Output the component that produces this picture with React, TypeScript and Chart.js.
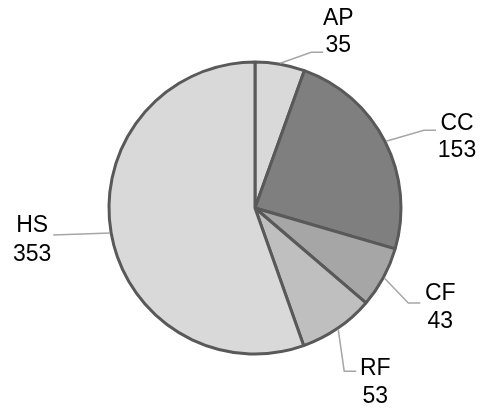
import React, { useEffect, useRef } from "react";
import { Chart, registerables } from "chart.js";

Chart.register(...registerables);

const categories = ["AP", "CC", "CF", "RF", "HS"];
const values = [35, 153, 43, 53, 353];
const sliceColors = ["#d9d9d9", "#7f7f7f", "#a6a6a6", "#bfbfbf", "#d9d9d9"];

// Per-label leader layout: elbow offset from arc edge, tail length, text offsets from tail end
const labelLayout = [
  { elbow: [31, -11], tail: 12, line1: [15, -34], line2: [15, -7] },
  { elbow: [38, -11], tail: 12, line1: [21, -7], line2: [21, 20] },
  { elbow: [24, 25], tail: 12, line1: [20, -9], line2: [20, 19] },
  { elbow: [6, 42], tail: 12, line1: [19, -3], line2: [19, 25] },
  { elbow: [-57, 2], tail: 0, line1: [-21, -9], line2: [-21, 20] },
];

const labelPlugin = {
  id: "outerLabels",
  afterDatasetsDraw(chart: any) {
    const ctx = chart.ctx;
    const meta = chart.getDatasetMeta(0);
    ctx.save();
    meta.data.forEach((arc: any, i: number) => {
      const p = arc.getProps(["x", "y", "startAngle", "endAngle", "outerRadius"], true);
      const mid = (p.startAngle + p.endAngle) / 2;
      const r = p.outerRadius + 1;
      const ex = p.x + Math.cos(mid) * r;
      const ey = p.y + Math.sin(mid) * r;
      const L = labelLayout[i];
      const bx = ex + L.elbow[0];
      const by = ey + L.elbow[1];
      const dir = L.elbow[0] >= 0 ? 1 : -1;
      const tx = bx + dir * L.tail;
      const ty = by;
      ctx.strokeStyle = "#a6a6a6";
      ctx.lineWidth = 1.5;
      ctx.beginPath();
      ctx.moveTo(ex, ey);
      ctx.lineTo(bx, by);
      ctx.lineTo(tx, ty);
      ctx.stroke();
      ctx.fillStyle = "#000000";
      ctx.font = "23px 'Liberation Sans', Arial, sans-serif";
      ctx.textAlign = "center";
      ctx.textBaseline = "middle";
      ctx.fillText(categories[i], tx + L.line1[0], ty + L.line1[1]);
      ctx.fillText(String(values[i]), tx + L.line2[0], ty + L.line2[1]);
    });
    ctx.restore();
  },
};

export default function App() {
  const canvasRef = useRef<HTMLCanvasElement | null>(null);
  useEffect(() => {
    if (!canvasRef.current) return;
    const chart = new Chart(canvasRef.current, {
      type: "pie",
      data: {
        labels: categories,
        datasets: [
          {
            data: values,
            backgroundColor: sliceColors,
            borderColor: "#595959",
            borderWidth: 3,
            radius: 146,
          } as any,
        ],
      },
      options: {
        animation: false,
        responsive: false,
        maintainAspectRatio: false,
        layout: { padding: { left: 105, right: 79, top: 58, bottom: 53 } },
        plugins: {
          legend: { display: false },
          tooltip: { enabled: false },
        },
      },
      plugins: [labelPlugin],
    });
    return () => chart.destroy();
  }, []);
  return (
    <div style={{ position: "fixed", left: 0, top: 0, width: 484, height: 411, background: "#fff" }}>
      <canvas ref={canvasRef} width={484} height={411} style={{ width: 484, height: 411 }} />
    </div>
  );
}
